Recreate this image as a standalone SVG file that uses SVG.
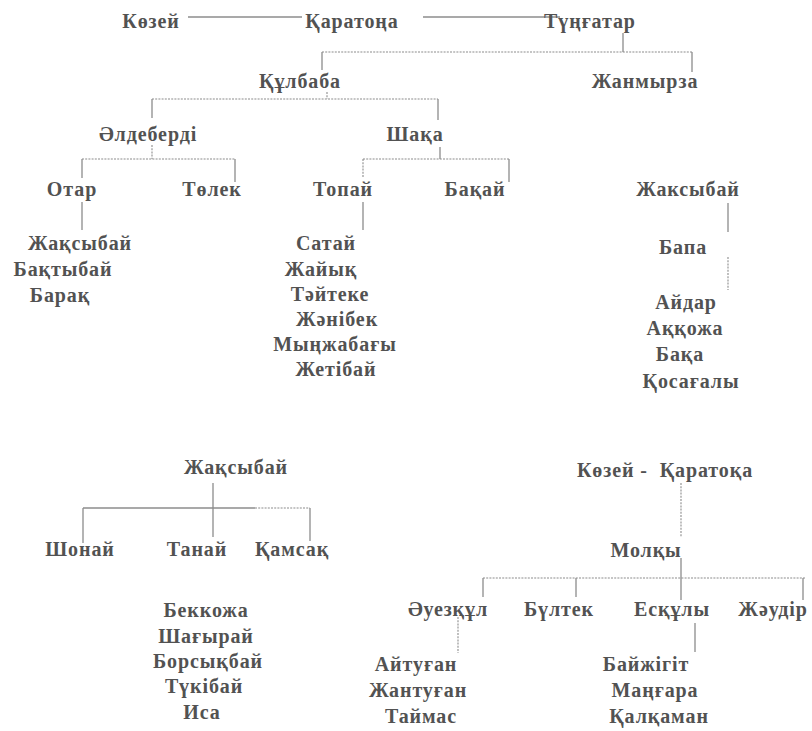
<svg xmlns="http://www.w3.org/2000/svg" width="812" height="731" viewBox="0 0 812 731">
<style>
text{font-family:"Liberation Serif","Times New Roman",serif;font-weight:bold;font-size:20px;fill:#525252;text-anchor:middle;letter-spacing:0.9px}
.c line{stroke:#8c8c8c;stroke-width:1.3;fill:none}
.c line.d{stroke-dasharray:2 1.2;stroke-width:1.1}
</style>
<rect width="812" height="731" fill="#fff"/>
<g class="c" id="connectors">
<line x1="188" y1="17" x2="302" y2="17"/>
<line x1="423" y1="17" x2="560" y2="17"/>
<line x1="623" y1="33" x2="623" y2="52"/>
<line class="d" x1="322" y1="52" x2="692" y2="52"/>
<line x1="322" y1="52" x2="322" y2="70"/>
<line x1="692" y1="52" x2="692" y2="72"/>
<line class="d" x1="327" y1="92" x2="327" y2="99"/>
<line class="d" x1="152" y1="99" x2="438" y2="99"/>
<line x1="152" y1="99" x2="152" y2="118"/>
<line x1="438" y1="99" x2="438" y2="120"/>
<line class="d" x1="152" y1="145" x2="152" y2="159"/>
<line x1="440" y1="147" x2="440" y2="159"/>
<line class="d" x1="82" y1="159" x2="235" y2="159"/>
<line x1="82" y1="159" x2="82" y2="178"/>
<line x1="235" y1="159" x2="235" y2="182"/>
<line class="d" x1="363" y1="159" x2="509" y2="159"/>
<line class="d" x1="363" y1="159" x2="363" y2="177"/>
<line x1="509" y1="159" x2="509" y2="182"/>
<line x1="82" y1="202" x2="82" y2="230"/>
<line x1="363" y1="202" x2="363" y2="230"/>
<line x1="728" y1="203" x2="728" y2="232"/>
<line class="d" x1="728" y1="257" x2="728" y2="290"/>
<line x1="213" y1="483" x2="213" y2="537"/>
<line x1="83" y1="508" x2="255" y2="508"/>
<line class="d" x1="255" y1="508" x2="310" y2="508"/>
<line x1="83" y1="508" x2="83" y2="543"/>
<line x1="310" y1="508" x2="310" y2="541"/>
<line class="d" x1="681" y1="483" x2="681" y2="537"/>
<line x1="681" y1="558" x2="681" y2="600"/>
<line class="d" x1="483" y1="578" x2="805" y2="578"/>
<line x1="483" y1="578" x2="483" y2="597"/>
<line x1="576" y1="578" x2="576" y2="597"/>
<line x1="803" y1="578" x2="803" y2="600"/>
<line class="d" x1="458" y1="617" x2="458" y2="653"/>
<line x1="695" y1="623" x2="695" y2="652"/>
</g>
<g id="n-kozei"><text x="151" y="28">Көзей</text></g>
<g id="n-karatona"><text x="352" y="28">Қаратоңа</text></g>
<g id="n-tungatar"><text x="590" y="28">Түңғатар</text></g>
<g id="n-kulbaba"><text x="300" y="88">Құлбаба</text></g>
<g id="n-zhanmyrza"><text x="645" y="88">Жанмырза</text></g>
<g id="n-aldeberdi"><text x="148" y="141">Әлдеберді</text></g>
<g id="n-shaka"><text x="415" y="141">Шақа</text></g>
<g id="n-otar"><text x="72" y="196">Отар</text></g>
<g id="n-tolek"><text x="212" y="196">Төлек</text></g>
<g id="n-topai"><text x="343" y="196">Топай</text></g>
<g id="n-bakai"><text x="475" y="196">Бақай</text></g>
<g id="n-zhaksybai-r"><text x="688" y="196">Жаксыбай</text></g>
<g id="n-otar-list">
<text x="80" y="250">Жақсыбай</text>
<text x="63" y="276">Бақтыбай</text>
<text x="60" y="302">Барақ</text>
</g>
<g id="n-topai-list">
<text x="326" y="250">Сатай</text>
<text x="321" y="276">Жайық</text>
<text x="330" y="301">Тәйтеке</text>
<text x="337" y="326">Жәнібек</text>
<text x="335" y="351">Мыңжабағы</text>
<text x="336" y="376">Жетібай</text>
</g>
<g id="n-bapa"><text x="683" y="254">Бапа</text></g>
<g id="n-bapa-list">
<text x="686" y="309">Айдар</text>
<text x="685" y="335">Аққожа</text>
<text x="680" y="361">Бақа</text>
<text x="691" y="388">Қосағалы</text>
</g>
<g id="n-zhaksybai-b"><text x="236" y="474">Жақсыбай</text></g>
<g id="n-shonai"><text x="80" y="556">Шонай</text></g>
<g id="n-tanai"><text x="197" y="556">Танай</text></g>
<g id="n-kamsak"><text x="292" y="556">Қамсақ</text></g>
<g id="n-tanai-list">
<text x="206" y="617">Беккожа</text>
<text x="206" y="643">Шағырай</text>
<text x="208" y="668">Борсықбай</text>
<text x="204" y="693">Түкібай</text>
<text x="202" y="719">Иса</text>
</g>
<g id="n-kozei-karatoka"><text x="665" y="477" xml:space="preserve">Көзей -  Қаратоқа</text></g>
<g id="n-molky"><text x="646" y="557">Молқы</text></g>
<g id="n-auezkul"><text x="448" y="616">Әуезқұл</text></g>
<g id="n-bultek"><text x="559" y="616">Бүлтек</text></g>
<g id="n-eskuly"><text x="672" y="616">Есқұлы</text></g>
<g id="n-zhaudir"><text x="773" y="616">Жәудір</text></g>
<g id="n-auezkul-list">
<text x="416" y="671">Айтуған</text>
<text x="418" y="697">Жантуған</text>
<text x="421" y="723">Таймас</text>
</g>
<g id="n-eskuly-list">
<text x="646" y="671">Байжігіт</text>
<text x="655" y="697">Маңғара</text>
<text x="659" y="723">Қалқаман</text>
</g>
</svg>
